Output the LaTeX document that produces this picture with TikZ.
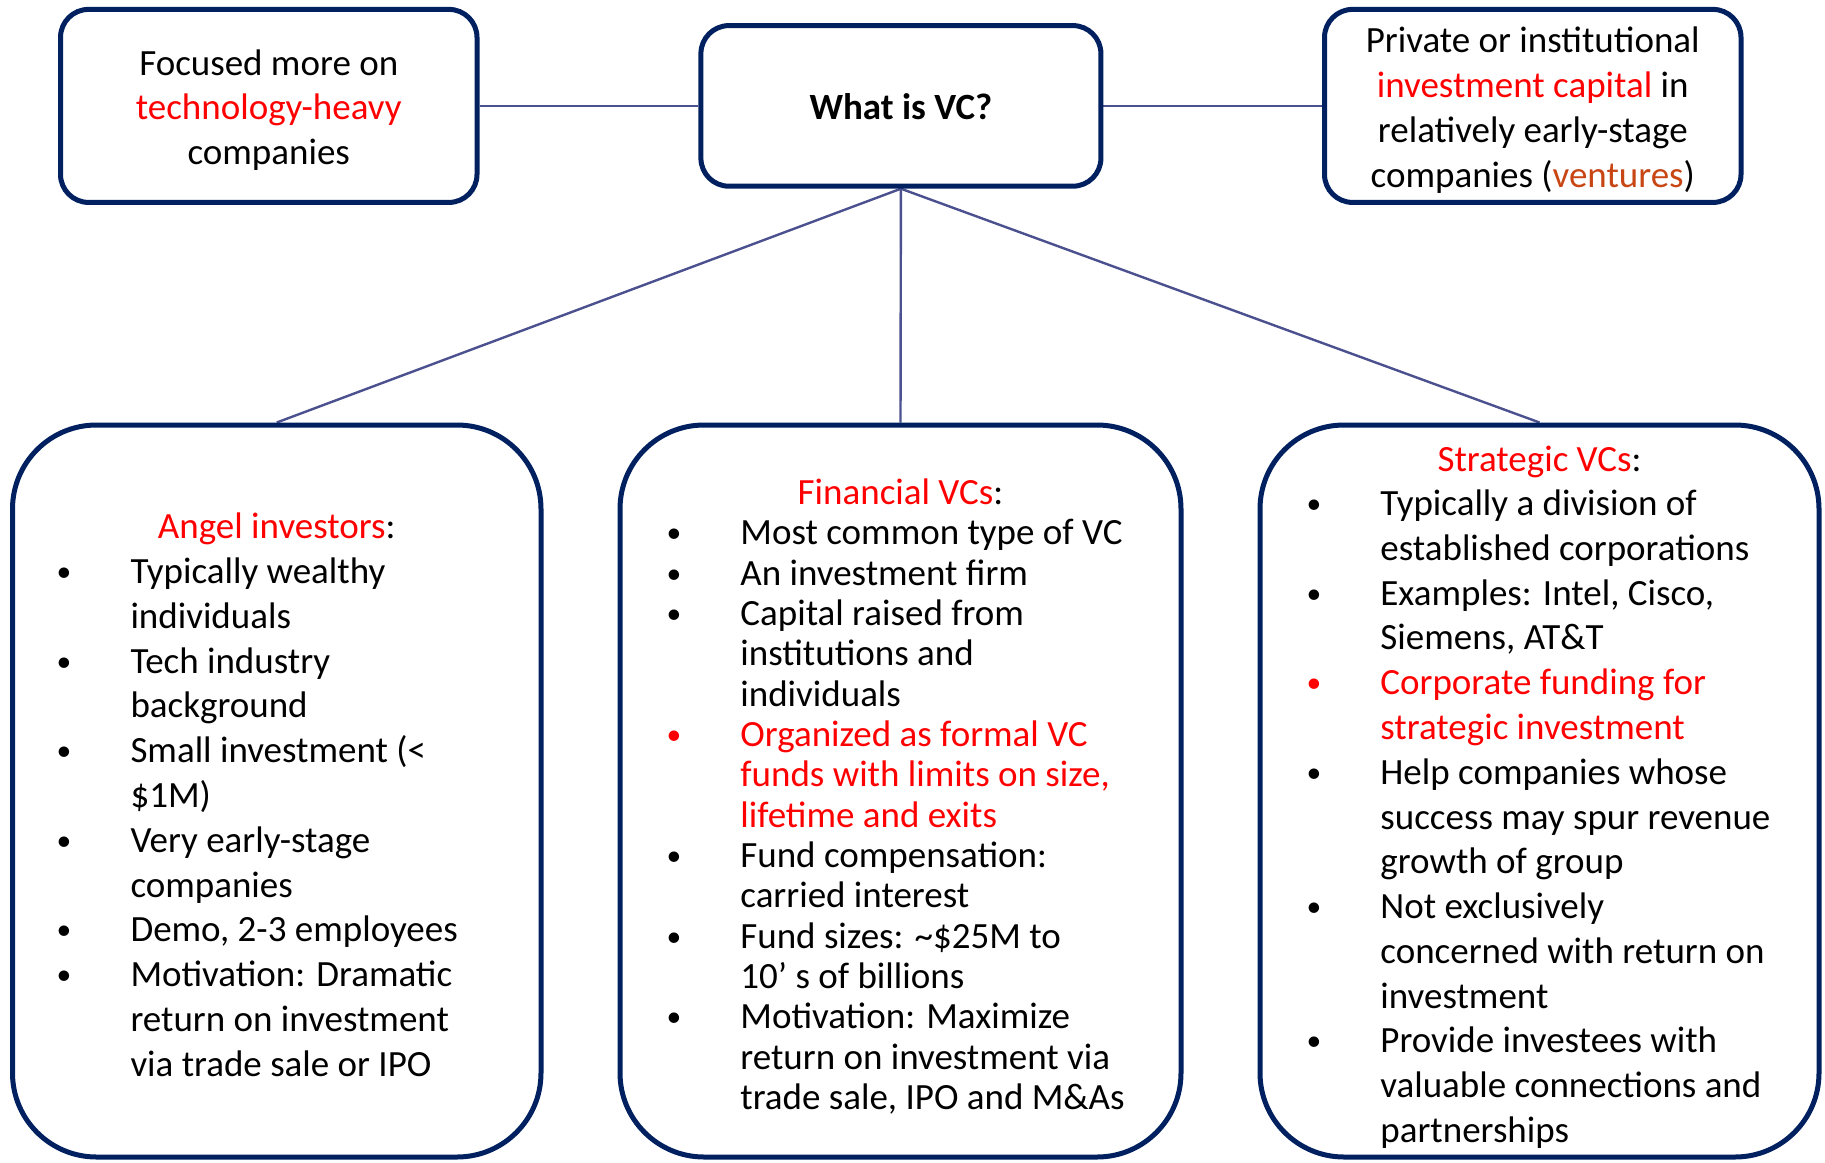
\documentclass[tikz,border=0pt]{standalone}
\usepackage{fontspec}
\setmainfont{Carlito}
\usetikzlibrary{backgrounds}
\definecolor{navy}{RGB}{0,32,96}
\definecolor{conncol}{RGB}{75,80,143}
\definecolor{hired}{RGB}{255,0,0}
\definecolor{ventorange}{RGB}{200,70,20}
\newcommand\tline[1]{\hbox{#1}}
\newcommand\ctline[1]{\hbox to 0pt{\hss#1\hss}}
\newcommand\bul{\llap{\hbox to 133pt{\hss\raisebox{2pt}{\scalebox{0.8}{•}}\hss}}}
\newcommand\textblock[2]{\vtop{\baselineskip=#1\lineskiplimit=-1000pt\lineskip=0pt\relax #2}}
\tikzset{
  topbox/.style={draw=navy, line width=5pt, rounded corners=28pt, inner sep=0pt,
    minimum width=416.5pt, minimum height=193pt},
  ctrbox/.style={topbox, minimum width=400pt, minimum height=160.6pt},
  bigbox/.style={draw=navy, line width=5pt, rounded corners=84pt, inner sep=0pt,
    minimum height=732pt},
  conn/.style={draw=conncol, line width=2.4pt},
  txt/.style={inner sep=0pt, font=\fontsize{37}{44.8}\selectfont},
}
\begin{document}
\begin{tikzpicture}[x=1pt,y=-1pt]
\useasboundingbox (0,0) rectangle (1825,1162);
% boxes
\node[topbox] (tl) at (268.75,105.9) {};
\node[ctrbox] (ctr) at (900.9,105.9) {};
\node[topbox] (tr) at (1532.75,105.9) {};
\node[bigbox, minimum width=528.5pt] (bl) at (276.75,791) {};
\node[bigbox, minimum width=561pt] (bc) at (900.5,791) {};
\node[bigbox, minimum width=559pt] (br) at (1539.5,791) {};
% connectors
\begin{scope}[on background layer]
\draw[conn] (tl.east) -- (ctr.west);
\draw[conn] (ctr.east) -- (tr.west);
\draw[conn] (ctr.south) -- (bl.north);
\draw[conn] (ctr.south) -- (bc.north);
\draw[conn] (ctr.south) -- (br.north);
\end{scope}
% top texts
\node[txt, anchor=base] (tltext) at (268.75,75) {\textblock{44.8pt}{%
  \ctline{Focused more on}%
  \ctline{\textcolor{hired}{technology-heavy}}%
  \ctline{companies}}};
\node[txt, anchor=base] (ctrtext) at (900.9,119.6) {\textbf{What is VC?}};
\node[txt, anchor=base] (trtext) at (1532.75,52.5) {\textblock{45pt}{%
  \ctline{Private or institutional}%
  \ctline{\textcolor{hired}{investment capital} in}%
  \ctline{relatively early-stage}%
  \ctline{companies (\textcolor{ventorange}{ventures})}}};
% bottom left
\node[txt, anchor=base] (blhead) at (276.75,538.5) {\textcolor{hired}{Angel investors}:};
\node[txt, anchor=base west] (bltext) at (130.3,583.5) {\textblock{44.8pt}{%
  \tline{\bul Typically wealthy}%
  \tline{individuals}%
  \tline{\bul Tech industry}%
  \tline{background}%
  \tline{\bul Small investment (<}%
  \tline{\$1M)}%
  \tline{\bul Very early-stage}%
  \tline{companies}%
  \tline{\bul Demo, 2-3 employees}%
  \tline{\bul Motivation: Dramatic}%
  \tline{return on investment}%
  \tline{via trade sale or IPO}}};
% bottom center
\node[txt, anchor=base] (bchead) at (900.5,504.5) {\textcolor{hired}{Financial VCs}:};
\node[txt, anchor=base west] (bctext) at (740.2,544.8) {\textblock{40.33pt}{%
  \tline{\bul Most common type of VC}%
  \tline{\bul An investment firm}%
  \tline{\bul Capital raised from}%
  \tline{institutions and}%
  \tline{individuals}%
  \tline{\textcolor{hired}{\bul Organized as formal VC}}%
  \tline{\textcolor{hired}{funds with limits on size,}}%
  \tline{\textcolor{hired}{lifetime and exits}}%
  \tline{\bul Fund compensation:}%
  \tline{carried interest}%
  \tline{\bul Fund sizes: \textasciitilde\$25M to}%
  \tline{10’ s of billions}%
  \tline{\bul Motivation: Maximize}%
  \tline{return on investment via}%
  \tline{trade sale, IPO and M\&As}}};
% bottom right
\node[txt, anchor=base] (brhead) at (1539.5,471.4) {\textcolor{hired}{Strategic VCs}:};
\node[txt, anchor=base west] (brtext) at (1380.2,515.6) {\textblock{44.78pt}{%
  \tline{\bul Typically a division of}%
  \tline{established corporations}%
  \tline{\bul Examples: Intel, Cisco,}%
  \tline{Siemens, AT\&T}%
  \tline{\textcolor{hired}{\bul Corporate funding for}}%
  \tline{\textcolor{hired}{strategic investment}}%
  \tline{\bul Help companies whose}%
  \tline{success may spur revenue}%
  \tline{growth of group}%
  \tline{\bul Not exclusively}%
  \tline{concerned with return on}%
  \tline{investment}%
  \tline{\bul Provide investees with}%
  \tline{valuable connections and}%
  \tline{partnerships}}};
\end{tikzpicture}
\end{document}
